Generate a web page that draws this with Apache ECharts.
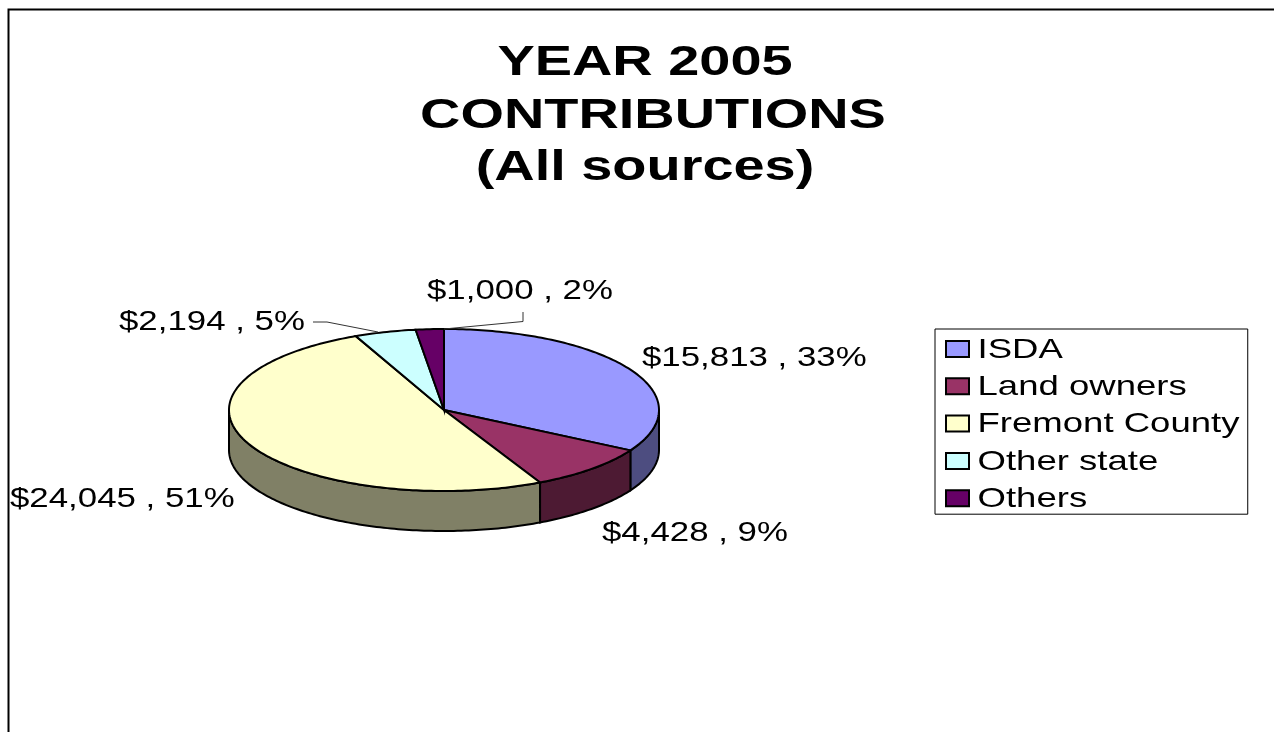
<!DOCTYPE html>
<html><head><meta charset="utf-8">
<style>html,body{margin:0;padding:0;background:#fff}#c{width:1274px;height:732px}</style>
<script src="https://cdn.jsdelivr.net/npm/echarts@6/dist/echarts.min.js"></script>
</head><body><div id="c"></div>
<script>
const titleLines = ['YEAR 2005', 'CONTRIBUTIONS', '(All sources)'];
const categories = ['ISDA', 'Land owners', 'Fremont County', 'Other state', 'Others'];
const values = [15813, 4428, 24045, 2194, 1000];
const percents = [33, 9, 51, 5, 2];
const colors = ['#9999FF', '#993366', '#FFFFCC', '#CCFFFF', '#660066'];
const sideColors = ['#4D4D80', '#4D1A33', '#808066', '#668080', '#330033'];
const labelTexts = values.map((v, i) => '$' + v.toLocaleString('en-US') + ' , ' + percents[i] + '%');

const FONT = '"Liberation Sans", Arial, sans-serif';
const CX = 444, CY = 410, RX = 215, RY = 81, DEPTH = 40;
const labelPos = [[642, 358], [602, 533], [10, 499], [119, 322], [427, 291]];
const total = values.reduce((a, b) => a + b, 0);
const starts = values.map((_, i) => values.slice(0, i).reduce((a, b) => a + b, 0));

function pt(t, dy) {
  const a = t * 2 * Math.PI;
  return [CX + RX * Math.sin(a), CY - RY * Math.cos(a) + (dy || 0)];
}
function arc(t0, t1, dy) {
  const n = Math.max(2, Math.ceil((t1 - t0) * 360));
  const out = [];
  for (let k = 0; k <= n; k++) out.push(pt(t0 + (t1 - t0) * k / n, dy));
  return out;
}
function renderSlice(idx) {
  return function (params, api) {
    const t0 = api.value(0) / total;
    const t1 = (api.value(0) + api.value(1)) / total;
    const children = [];
    const a = Math.max(t0, 0.25), b = Math.min(t1, 0.75);
    if (b > a) {
      const top = arc(a, b, 0);
      const bottom = arc(a, b, DEPTH).reverse();
      children.push({
        type: 'polygon', z2: 1,
        shape: { points: top.concat(bottom) },
        style: { fill: sideColors[idx], stroke: '#000', lineWidth: 2 }
      });
    }
    children.push({
      type: 'polygon', z2: 2,
      shape: { points: [[CX, CY]].concat(arc(t0, t1, 0)) },
      style: { fill: colors[idx], stroke: '#000', lineWidth: 2 }
    });
    return { type: 'group', children };
  };
}

const chart = echarts.init(document.getElementById('c'), null, { renderer: 'canvas' });
chart.setOption({
  animation: false,
  backgroundColor: '#fff',
  title: {
    text: titleLines.join('\n'),
    left: 640, top: 32, textAlign: 'center',
    textStyle: { fontFamily: FONT, fontSize: 43, fontWeight: 'bold', color: '#000', lineHeight: 52.5 }
  },
  legend: {
    orient: 'vertical', left: 935, top: 329, data: categories,
    padding: [6, 73, 2, 10], itemWidth: 23, itemHeight: 16, itemGap: 9.3,
    borderColor: '#000', borderWidth: 1, backgroundColor: '#fff',
    selectedMode: false, icon: 'rect',
    textStyle: { fontFamily: FONT, fontSize: 28, color: '#000', lineHeight: 28 }
  },
  graphic: {
    elements: [
      { type: 'polyline', z: 0, silent: true, shape: { points: [[1274, 9.5], [8.5, 9.5], [8.5, 732]] }, style: { stroke: '#000', lineWidth: 2, fill: null } },
      { type: 'polyline', z: 10, silent: true, shape: { points: [[313, 322], [327, 322], [378, 332]] }, style: { stroke: '#333', lineWidth: 1, fill: null } },
      { type: 'polyline', z: 10, silent: true, shape: { points: [[523, 312], [523, 321.5], [444, 329]] }, style: { stroke: '#333', lineWidth: 1, fill: null } }
    ].concat(labelTexts.map((t, i) => ({
      type: 'text', z: 11, silent: true,
      x: labelPos[i][0], y: labelPos[i][1], scaleX: 1.244,
      style: { text: t, font: '28px ' + FONT, fill: '#000', verticalAlign: 'middle' }
    })))
  },
  series: categories.map((name, i) => ({
    type: 'custom', name, coordinateSystem: 'none',
    itemStyle: { color: colors[i], borderColor: '#000', borderWidth: 1.5 },
    renderItem: renderSlice(i),
    silent: true,
    data: [[starts[i], values[i]]]
  }))
});

// The reference's type is horizontally stretched: widen the title and legend text in place.
const zr = chart.getZr();
zr.storage.getDisplayList(true).forEach(function (el) {
  const t = el.style && el.style.text;
  if (typeof t !== 'string') return;
  if (categories.indexOf(t) >= 0) { el.x -= 5; el.y += 1; el.scaleX = 1.305; el.markRedraw(); }
  else if (titleLines.indexOf(t) >= 0) {
    el.scaleX = 1.30;
    if (t === titleLines[1]) el.x += 8;
    el.markRedraw();
  }
});
zr.refresh();
</script></body></html>
